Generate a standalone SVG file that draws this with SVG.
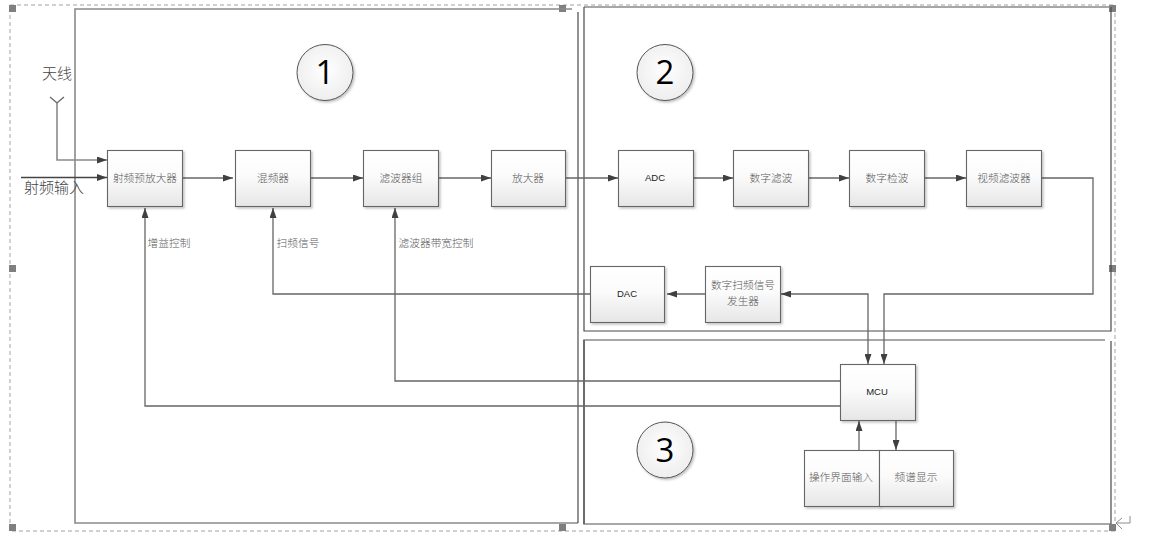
<svg xmlns="http://www.w3.org/2000/svg" width="1163" height="541" viewBox="0 0 1163 541">
<defs>
<linearGradient id="g" x1="0" y1="0" x2="0" y2="1"><stop offset="0" stop-color="#ffffff"/><stop offset="0.45" stop-color="#fbfbfb"/><stop offset="1" stop-color="#e6e6e6"/></linearGradient>
<radialGradient id="c" cx="0.5" cy="0.45" r="0.6"><stop offset="0" stop-color="#ffffff"/><stop offset="1" stop-color="#ececec"/></radialGradient>
<filter id="sh" x="-10%" y="-10%" width="125%" height="125%"><feDropShadow dx="1.500" dy="1.500" stdDeviation="1" flood-color="#000" flood-opacity="0.25"/></filter>
<marker id="a" viewBox="0 0 10 7" refX="10" refY="3.500" markerWidth="10" markerHeight="7" markerUnits="userSpaceOnUse" orient="auto-start-reverse"><path d="M0 0L10 3.500L0 7Z" fill="#404040"/></marker>
</defs>
<style>
.n{fill:url(#g);stroke:#666;stroke-width:1.1;filter:url(#sh)}
.l{fill:none;stroke:#666;stroke-width:1.3}
.la{fill:none;stroke:#666;stroke-width:1.3;marker-end:url(#a)}
.gy{fill:none;stroke:#8a8a8a;stroke-width:1.6}
.dk{fill:none;stroke:#4a4a4a;stroke-width:1.2}
.t{font-family:"Noto Sans CJK SC","Liberation Sans",sans-serif;font-size:10.700px;font-weight:300;fill:#5a5a5a;text-anchor:middle}
.e{font-family:"Liberation Sans",sans-serif;font-size:9.500px;fill:#222;text-anchor:middle}
.b{font-family:"Noto Sans CJK SC",serif;font-size:15px;font-weight:300;fill:#444}
.num{font-family:"Open Sans","Liberation Sans",sans-serif;font-size:33px;fill:#000;text-anchor:middle}
.h{fill:#7f7f7f}
</style>
<g id="frame">
<path d="M10 5H1115V531H10Z" fill="none" stroke="#8c8c8c" stroke-width="0.8" stroke-dasharray="4 3"/>
<rect class="h" x="9" y="5" width="7" height="7"/><rect class="h" x="9" y="265" width="7" height="7"/><rect class="h" x="9" y="524" width="7" height="7"/>
<rect class="h" x="559" y="5" width="7" height="7"/><rect class="h" x="559" y="524" width="7" height="7"/>
<rect class="h" x="1109" y="5" width="7" height="7"/><rect class="h" x="1109" y="265" width="7" height="7"/><rect class="h" x="1109" y="524" width="7" height="7"/>
<path d="M1130 516V523H1116M1122 518L1116 523L1122 529" fill="none" stroke="#8c8c8c" stroke-width="1"/>
</g>
<g id="regions">
<path class="gy" d="M572 9H75V523H578"/>
<path class="dk" d="M578 12V523"/>
<path class="gy" d="M584 7H1111"/><path class="dk" d="M584 7V331H1111V7"/>
<path class="gy" d="M1105 340H584V524H1111"/><path class="dk" d="M584 340V524M1111 341V524"/>
</g>
<g id="connectors">
<path class="l" d="M50 97L57 103L64 97" stroke-width="0.8"/>
<path class="la" d="M57 103V160H107" style="stroke:#8a8a8a;stroke-width:1.6"/>
<path class="la" d="M21 177.500H107" style="stroke:#444"/>
<path class="la" d="M183 178H233"/>
<path class="la" d="M311 178H363"/>
<path class="la" d="M439 178H491"/>
<path class="la" d="M566 178H618"/>
<path class="la" d="M693 178H733"/>
<path class="la" d="M809 178H849"/>
<path class="la" d="M925 178H966"/>
<path class="la" d="M1042 178H1093V294H884V364"/>
<path class="la" d="M781 294H868V364" style="marker-start:url(#a)"/>
<path class="la" d="M705 294H667"/>
<path class="la" d="M590 294H273V208"/>
<path class="la" d="M840 381H395V208"/>
<path class="la" d="M840 406H145V208"/>
<path class="la" d="M859 450V421"/>
<path class="la" d="M896 419V450"/>
</g>
<g id="n1"><rect class="n" x="107.500" y="150.500" width="75" height="56"/><text class="t" x="145" y="182">射频预放大器</text></g>
<g id="n2"><rect class="n" x="235.500" y="150.500" width="75" height="56"/><text class="t" x="273" y="182">混频器</text></g>
<g id="n3"><rect class="n" x="363.500" y="150.500" width="75" height="56"/><text class="t" x="401" y="182">滤波器组</text></g>
<g id="n4"><rect class="n" x="491.500" y="150.500" width="74" height="56"/><text class="t" x="528" y="182">放大器</text></g>
<g id="n5"><rect class="n" x="618.500" y="150.500" width="75" height="56"/><text class="e" x="655" y="181">ADC</text></g>
<g id="n6"><rect class="n" x="733.500" y="150.500" width="75" height="56"/><text class="t" x="771" y="182">数字滤波</text></g>
<g id="n7"><rect class="n" x="849.500" y="150.500" width="75" height="56"/><text class="t" x="887" y="182">数字检波</text></g>
<g id="n8"><rect class="n" x="966.500" y="150.500" width="75" height="56"/><text class="t" x="1004" y="182">视频滤波器</text></g>
<g id="n9"><rect class="n" x="590.500" y="266.500" width="74" height="56"/><text class="e" x="627" y="297">DAC</text></g>
<g id="n10"><rect class="n" x="705.500" y="266.500" width="75" height="56"/><text class="t" x="743" y="289">数字扫频信号</text><text class="t" x="743" y="305">发生器</text></g>
<g id="n11"><rect class="n" x="840.500" y="364.500" width="75" height="56"/><text class="e" x="877" y="395">MCU</text></g>
<g id="n12"><rect class="n" x="804.500" y="450.500" width="75" height="56"/><text class="t" x="841" y="481">操作界面输入</text></g>
<g id="n13"><rect class="n" x="879.500" y="450.500" width="74" height="56"/><text class="t" x="916" y="481">频谱显示</text></g>
<g id="c1"><circle cx="325" cy="72.500" r="28" fill="url(#c)" stroke="#555" filter="url(#sh)"/><text class="num" x="325" y="84">1</text></g>
<g id="c2"><circle cx="665" cy="72.500" r="28" fill="url(#c)" stroke="#555" filter="url(#sh)"/><text class="num" x="665" y="84">2</text></g>
<g id="c3"><circle cx="665" cy="450" r="28" fill="url(#c)" stroke="#555" filter="url(#sh)"/><text class="num" x="665" y="462">3</text></g>
<g id="labels">
<text class="b" x="42" y="79">天线</text>
<text class="b" x="24" y="193">射频输入</text>
<text class="t" x="169" y="247">增益控制</text>
<text class="t" x="298" y="247">扫频信号</text>
<text class="t" x="436" y="247">滤波器带宽控制</text>
</g>
</svg>
